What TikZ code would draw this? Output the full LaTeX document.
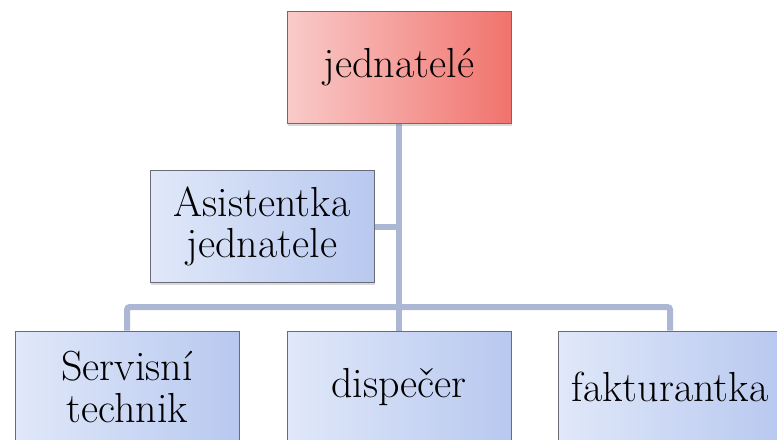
\documentclass[tikz,border=0pt]{standalone}
\usetikzlibrary{shadows,backgrounds}
\definecolor{linkblue}{RGB}{172,183,212}
\definecolor{boxlight}{RGB}{224,232,249}
\definecolor{boxdark}{RGB}{184,200,239}
\definecolor{redlight}{RGB}{249,203,202}
\definecolor{reddark}{RGB}{241,115,109}
\definecolor{boxedge}{RGB}{105,108,118}
\tikzset{
  orgbox/.style={draw=boxedge, line width=0.6pt, left color=boxlight, right color=boxdark,
    minimum width=168pt, minimum height=84pt, align=center, inner sep=2pt,
    font=\fontsize{31.5}{31}\selectfont,
    drop shadow={shadow xshift=1pt, shadow yshift=-1.5pt, opacity=0.3}},
  headbox/.style={orgbox, left color=redlight, right color=reddark},
  link/.style={draw=linkblue, line width=4.5pt}
}
\begin{document}
\begin{tikzpicture}[x=0.75pt,y=0.75pt,yscale=-1,xscale=1]
  \useasboundingbox (0,0) rectangle (777,439);
  \clip (0,0) rectangle (777,439);

  \node [headbox] (head) at (399,67.5) {jednatelé};
  \node [orgbox] (asst) at (262,226.5) {Asistentka\\jednatele};
  \node [orgbox] (serv) at (127,387) {Servisní\\technik};
  \node [orgbox] (disp) at (399,387) {dispečer};
  \node [orgbox] (fakt) at (670,387) {fakturantka};
  \coordinate (bus) at (399,307);

  % connectors behind the boxes
  \begin{scope}[on background layer]
    \draw [link] (head.south) -- (disp.north);
    \draw [link] (asst.east) -- (asst.east -| head.south);
    \draw [link, rounded corners=2pt] (serv.north) |- (bus) -| (fakt.north);
  \end{scope}
\end{tikzpicture}
\end{document}
